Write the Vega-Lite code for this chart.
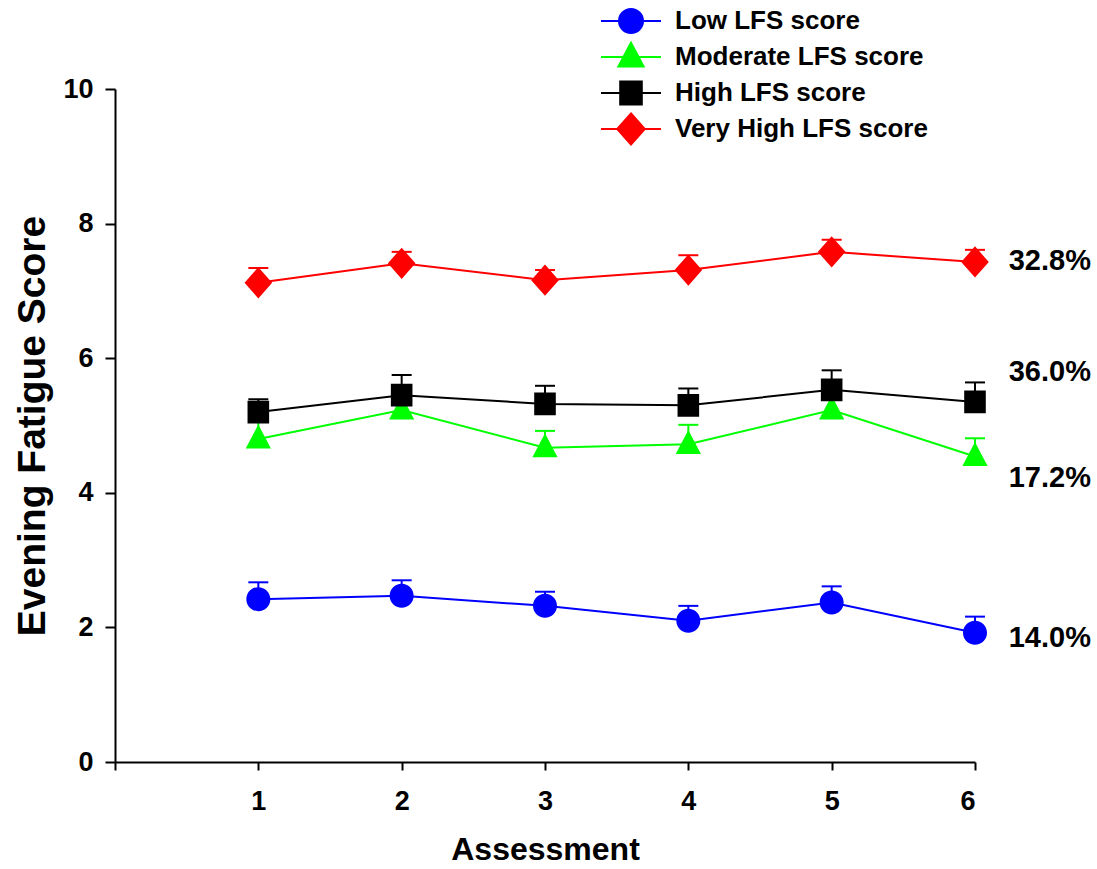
{
  "$schema": "https://vega.github.io/schema/vega-lite/v6.json",
  "width": 860,
  "height": 673,
  "autosize": {"type": "none"},
  "padding": {"left": 115, "top": 89, "right": 122, "bottom": 107},
  "background": "white",
  "config": {
    "font": "Liberation Sans",
    "view": {"stroke": null},
    "axis": {
      "domainColor": "black", "domainWidth": 2, "tickColor": "black", "tickWidth": 2,
      "labelColor": "black", "labelFont": "Liberation Sans", "labelFontWeight": "bold",
      "titleColor": "black", "titleFont": "Liberation Sans", "titleFontWeight": "bold",
      "grid": false
    },
    "axisX": {"tickSize": 8, "labelPadding": 18, "labelFontSize": 27, "titleFontSize": 32, "titlePadding": 20},
    "axisY": {"tickSize": 10, "labelPadding": 12, "labelFontSize": 27, "titleFontSize": 39, "titlePadding": 10}
  },
  "datasets": {
    "series": [
      {"series": "Low LFS score", "assessment": 1, "score": 2.42, "upper": 2.67},
      {"series": "Low LFS score", "assessment": 2, "score": 2.47, "upper": 2.70},
      {"series": "Low LFS score", "assessment": 3, "score": 2.32, "upper": 2.53},
      {"series": "Low LFS score", "assessment": 4, "score": 2.10, "upper": 2.32},
      {"series": "Low LFS score", "assessment": 5, "score": 2.37, "upper": 2.61},
      {"series": "Low LFS score", "assessment": 6, "score": 1.92, "upper": 2.16},
      {"series": "Moderate LFS score", "assessment": 1, "score": 4.80, "upper": 5.10},
      {"series": "Moderate LFS score", "assessment": 2, "score": 5.23, "upper": 5.50},
      {"series": "Moderate LFS score", "assessment": 3, "score": 4.67, "upper": 4.92},
      {"series": "Moderate LFS score", "assessment": 4, "score": 4.72, "upper": 5.01},
      {"series": "Moderate LFS score", "assessment": 5, "score": 5.23, "upper": 5.50},
      {"series": "Moderate LFS score", "assessment": 6, "score": 4.54, "upper": 4.81},
      {"series": "High LFS score", "assessment": 1, "score": 5.20, "upper": 5.39},
      {"series": "High LFS score", "assessment": 2, "score": 5.45, "upper": 5.75},
      {"series": "High LFS score", "assessment": 3, "score": 5.32, "upper": 5.59},
      {"series": "High LFS score", "assessment": 4, "score": 5.30, "upper": 5.55},
      {"series": "High LFS score", "assessment": 5, "score": 5.53, "upper": 5.82},
      {"series": "High LFS score", "assessment": 6, "score": 5.35, "upper": 5.64},
      {"series": "Very High LFS score", "assessment": 1, "score": 7.12, "upper": 7.34},
      {"series": "Very High LFS score", "assessment": 2, "score": 7.41, "upper": 7.58},
      {"series": "Very High LFS score", "assessment": 3, "score": 7.16, "upper": 7.31},
      {"series": "Very High LFS score", "assessment": 4, "score": 7.31, "upper": 7.53},
      {"series": "Very High LFS score", "assessment": 5, "score": 7.58, "upper": 7.76},
      {"series": "Very High LFS score", "assessment": 6, "score": 7.43, "upper": 7.61}
    ],
    "labels": [
      {"x": 6.235, "y": 7.44, "label": "32.8%"},
      {"x": 6.235, "y": 5.79, "label": "36.0%"},
      {"x": 6.235, "y": 4.22, "label": "17.2%"},
      {"x": 6.235, "y": 1.84, "label": "14.0%"}
    ]
  },
  "layer": [
    {
      "data": {"name": "series"},
      "mark": {"type": "rule", "strokeWidth": 2, "opacity": 1},
      "encoding": {
        "x": {"field": "assessment", "type": "quantitative", "scale": {"domain": [0, 6], "nice": false},
          "axis": {"values": [0, 1, 2, 3, 4, 5, 6], "format": "d", "labelExpr": "datum.value == 0 ? '' : datum.label", "title": "Assessment"}},
        "y": {"field": "score", "type": "quantitative", "scale": {"domain": [0, 10], "nice": false},
          "axis": {"values": [0, 2, 4, 6, 8, 10], "format": "d", "title": "Evening Fatigue Score"}},
        "y2": {"field": "upper"},
        "color": {"field": "series", "type": "nominal",
          "scale": {"domain": ["Low LFS score", "Moderate LFS score", "High LFS score", "Very High LFS score"],
            "range": ["#0000ff", "#00ff00", "#000000", "#ff0000"]}}
      }
    },
    {
      "data": {"name": "series"},
      "mark": {"type": "tick", "orient": "horizontal", "size": 20, "thickness": 2, "opacity": 1},
      "encoding": {
        "x": {"field": "assessment", "type": "quantitative"},
        "y": {"field": "upper", "type": "quantitative"},
        "color": {"field": "series", "type": "nominal"}
      }
    },
    {
      "data": {"name": "series"},
      "mark": {"type": "line", "strokeWidth": 2, "opacity": 1},
      "encoding": {
        "x": {"field": "assessment", "type": "quantitative"},
        "y": {"field": "score", "type": "quantitative"},
        "color": {"field": "series", "type": "nominal"}
      }
    },
    {
      "data": {"name": "series"},
      "mark": {"type": "point", "filled": true, "opacity": 1, "size": 576, "strokeWidth": 0},
      "encoding": {
        "x": {"field": "assessment", "type": "quantitative"},
        "y": {"field": "score", "type": "quantitative"},
        "color": {"field": "series", "type": "nominal"},
        "shape": {"field": "series", "type": "nominal",
          "scale": {"domain": ["Low LFS score", "Moderate LFS score", "High LFS score", "Very High LFS score"],
            "range": [
              "M-2.5,0H2.5M-1,0A1,1 0 1,0 1,0A1,1 0 1,0 -1,0Z",
              "M-2.5,0H2.5M0,-1.2L1.05,0.8L-1.05,0.8Z",
              "M-2.5,0H2.5M-0.9,-0.95H0.9V0.95H-0.9Z",
              "M-2.5,0H2.5M0,-1.3L1.15,0L0,1.3L-1.15,0Z"
            ]},
          "legend": {"title": null, "orient": "none", "legendX": 503, "legendY": -81, "padding": 0,
            "symbolSize": 576, "labelOffset": 31, "labelFontSize": 26, "labelFontWeight": "bold", "labelColor": "black",
            "labelFont": "Liberation Sans", "rowPadding": -4, "gridAlign": "all", "labelLimit": 400,
            "symbolOpacity": 1, "symbolStrokeWidth": 2,
            "encode": {"symbols": {"update": {
              "fill": {"scale": "color", "field": "value"},
              "stroke": {"scale": "color", "field": "value"},
              "strokeWidth": {"value": 2},
              "opacity": {"value": 1}}}}}}
      }
    },
    {
      "data": {"name": "labels"},
      "mark": {"type": "text", "align": "left", "baseline": "middle", "fontSize": 29, "fontWeight": "bold", "color": "black", "font": "Liberation Sans"},
      "encoding": {
        "x": {"field": "x", "type": "quantitative"},
        "y": {"field": "y", "type": "quantitative"},
        "text": {"field": "label"}
      }
    }
  ]
}
